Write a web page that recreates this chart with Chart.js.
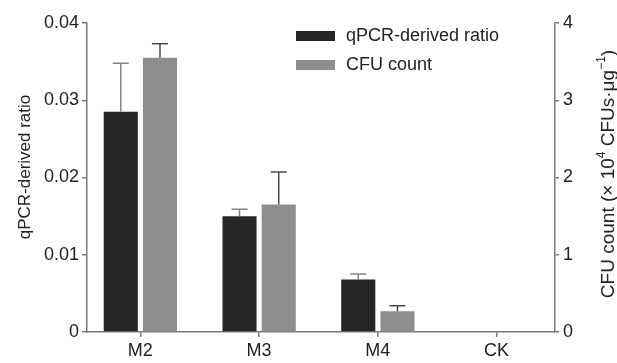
<!DOCTYPE html>
<html>
<head>
<meta charset="utf-8">
<script src="https://cdn.jsdelivr.net/npm/chart.js@4/dist/chart.umd.min.js"></script>
<style>
  body { margin: 0; background: #fff; }
  #wrap { width: 617px; height: 363px; }
</style>
</head>
<body>
<div id="wrap"><canvas id="chart" width="617" height="363"></canvas></div>
<script>
const categories = ["M2", "M3", "M4", "CK"];
const qpcrRatio = [0.0285, 0.015, 0.0068, 0];
const qpcrError = [0.0063, 0.0009, 0.0007, 0];
const cfuCount = [3.55, 1.65, 0.27, 0];
const cfuError = [0.18, 0.42, 0.07, 0];

const FONT = "'Liberation Sans', Arial, sans-serif";
const AXIS = "#7a7a7a";
const TEXT = "#222";

// the category axis in the original runs a little past the left y axis
const widenX = {
  id: "widenX",
  afterLayout(chart) {
    const x = chart.scales.x;
    x._startPixel -= 6;
    x._length += 7;
    x._endPixel = x._startPixel + x._length;
  },
};

// upper error bars, drawn at the bar positions the library computed
const errorBars = {
  id: "errorBars",
  afterDatasetsDraw(chart) {
    const ctx = chart.ctx;
    const sets = [
      { idx: 0, err: qpcrError, axis: "y", color: "#858585" },
      { idx: 1, err: cfuError, axis: "y1", color: "#4a4a4a" },
    ];
    ctx.save();
    ctx.lineWidth = 1.5;
    sets.forEach((s) => {
      const meta = chart.getDatasetMeta(s.idx);
      const scale = chart.scales[s.axis];
      const vals = chart.data.datasets[s.idx].data;
      meta.data.forEach((bar, j) => {
        if (!s.err[j]) return;
        const yTop = scale.getPixelForValue(vals[j] + s.err[j]);
        ctx.strokeStyle = s.color;
        ctx.beginPath();
        ctx.moveTo(bar.x, bar.y);
        ctx.lineTo(bar.x, yTop);
        ctx.moveTo(bar.x - 8, yTop);
        ctx.lineTo(bar.x + 8, yTop);
        ctx.stroke();
      });
    });
    ctx.restore();
  },
};

function drawRunText(ctx, parts, size, supSize) {
  let total = 0;
  parts.forEach((p) => {
    ctx.font = (p.sup ? supSize : size) + "px " + FONT;
    p.w = ctx.measureText(p.t).width;
    total += p.w;
  });
  let x = -total / 2;
  parts.forEach((p) => {
    ctx.font = (p.sup ? supSize : size) + "px " + FONT;
    ctx.fillText(p.t, x, p.sup ? -7 : 0);
    x += p.w;
  });
}

// axis titles and the legend inside the plot
const annotations = {
  id: "annotations",
  afterDraw(chart) {
    const ctx = chart.ctx;
    ctx.save();
    ctx.fillStyle = TEXT;
    ctx.font = "17px " + FONT;
    ctx.textAlign = "center";
    ctx.textBaseline = "middle";

    ctx.save();
    ctx.translate(25, 167);
    ctx.rotate(-Math.PI / 2);
    ctx.fillText("qPCR-derived ratio", 0, 0);
    ctx.restore();

    ctx.save();
    ctx.translate(609, 174);
    ctx.rotate(-Math.PI / 2);
    ctx.textAlign = "left";
    drawRunText(
      ctx,
      [
        { t: "CFU count (× 10" },
        { t: "4", sup: true },
        { t: " CFUs·μg" },
        { t: "−1", sup: true },
        { t: ")" },
      ],
      19,
      12
    );
    ctx.restore();

    ctx.textAlign = "left";
    ctx.font = "18px " + FONT;
    chart.data.datasets.forEach((ds, i) => {
      const y = 36 + i * 29;
      ctx.fillStyle = ds.backgroundColor;
      ctx.fillRect(296, y - 5, 39, 10);
      ctx.fillStyle = TEXT;
      ctx.fillText(ds.label, 346, y);
    });
    ctx.restore();
  },
};

new Chart(document.getElementById("chart"), {
  type: "bar",
  data: {
    labels: categories,
    datasets: [
      {
        label: "qPCR-derived ratio",
        data: qpcrRatio,
        backgroundColor: "#262626",
        yAxisID: "y",
        categoryPercentage: 0.66,
        barPercentage: 0.87,
      },
      {
        label: "CFU count",
        data: cfuCount,
        backgroundColor: "#8e8e8e",
        yAxisID: "y1",
        categoryPercentage: 0.66,
        barPercentage: 0.87,
      },
    ],
  },
  options: {
    responsive: false,
    animation: false,
    devicePixelRatio: 1,
    layout: { padding: { top: 23, left: 0, right: 0, bottom: 0 } },
    plugins: {
      legend: { display: false },
      tooltip: { enabled: false },
    },
    scales: {
      x: {
        offset: true,
        grid: {
          offset: false,
          drawOnChartArea: false,
          drawTicks: true,
          tickLength: 5,
          color: AXIS,
          lineWidth: 1.5,
        },
        border: { color: AXIS, width: 1.5 },
        ticks: { color: TEXT, font: { family: FONT, size: 18 }, padding: 3 },
        afterFit(scale) {
          scale.height = 31;
        },
      },
      y: {
        position: "left",
        min: 0,
        max: 0.04,
        ticks: {
          stepSize: 0.01,
          color: TEXT,
          font: { family: FONT, size: 18 },
          padding: 3,
        },
        grid: {
          drawOnChartArea: false,
          tickLength: 5,
          color: AXIS,
          lineWidth: 1.5,
        },
        border: { color: AXIS, width: 1.5 },
        afterFit(scale) {
          scale.width = 87;
        },
      },
      y1: {
        position: "right",
        min: 0,
        max: 4,
        ticks: {
          stepSize: 1,
          color: TEXT,
          font: { family: FONT, size: 18 },
          padding: 4,
        },
        grid: {
          drawOnChartArea: false,
          tickLength: 4,
          color: AXIS,
          lineWidth: 1.5,
        },
        border: { color: AXIS, width: 1.5 },
        afterFit(scale) {
          scale.width = 62;
        },
      },
    },
  },
  plugins: [widenX, errorBars, annotations],
});
</script>
</body>
</html>
